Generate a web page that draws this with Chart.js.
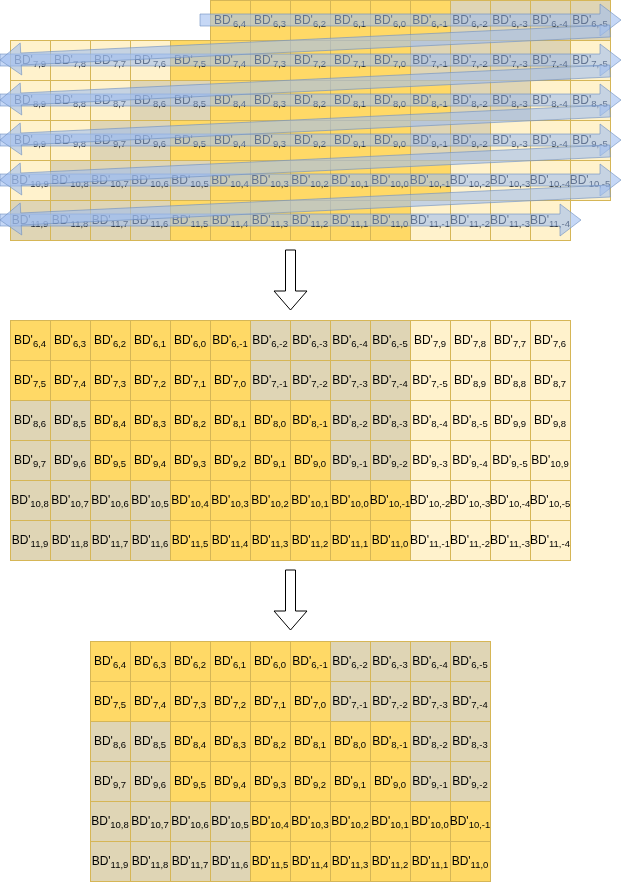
<!DOCTYPE html>
<html>
<head>
<meta charset="utf-8">
<script src="https://cdn.jsdelivr.net/npm/chart.js@4.4.1/dist/chart.umd.min.js"></script>
<style>
  html, body { margin: 0; padding: 0; background: #fff; }
  #box { width: 621px; height: 882px; }
</style>
</head>
<body>
<div id="box"><canvas id="grid" width="621" height="882"></canvas></div>
<script>
// BD' rows and the column numbers found in each row
const rowNums = [6, 7, 8, 9, 10, 11];
const rowCols = [
    [4, 3, 2, 1, 0, -1, -2, -3, -4, -5],
    [9, 8, 7, 6, 5, 4, 3, 2, 1, 0, -1, -2, -3, -4, -5],
    [9, 8, 7, 6, 5, 4, 3, 2, 1, 0, -1, -2, -3, -4, -5],
    [9, 8, 7, 6, 5, 4, 3, 2, 1, 0, -1, -2, -3, -4, -5],
    [9, 8, 7, 6, 5, 4, 3, 2, 1, 0, -1, -2, -3, -4, -5],
    [9, 8, 7, 6, 5, 4, 3, 2, 1, 0, -1, -2, -3, -4]
];
// shade of each cell: Y = yellow, T = tan, L = light
const rowShades = [
    'YYYYYYTTTT',
    'LLLLYYYYYYTTTTL',
    'LLLTTYYYYYYTTLL',
    'LLTTYYYYYYTTLLL',
    'LTTTTYYYYYYLLLL',
    'TTTTYYYYYYLLLL'
];
const middleWidth = 14; // cells per row once reflowed
const bottomWidth = 10; // cells kept per row at the end

const shadeColors = { Y: '#FFD966', T: '#DFD5B5', L: '#FFF2CC' };
const borderColor = '#D6B656';
const FONT = '"Liberation Sans", Arial, Helvetica, sans-serif';

// flat list of all cells in reading order
const cells = [];
rowNums.forEach((r, i) => {
    rowCols[i].forEach((c, j) => {
        cells.push({ label: r + ',' + c, shade: rowShades[i][j], row: i, pos: j, count: rowCols[i].length });
    });
});

// grid 1: rows as read, first row pushed to the right edge
const topPts = cells.map(d => ({
    x: (d.row === 0 ? 15 - d.count : 0) + d.pos + 0.5,
    y: d.row + 0.5,
    label: d.label, shade: d.shade
}));
// grid 2: same cells wrapped 14 per row
const midPts = cells.map((d, k) => ({
    x: k % middleWidth + 0.5,
    y: 8 + Math.floor(k / middleWidth) + 0.5,
    label: d.label, shade: d.shade
}));
// grid 3: first 10 columns of grid 2
const botPts = cells.filter((d, k) => k % middleWidth < bottomWidth).map((d, k) => ({
    x: 2 + k % bottomWidth + 0.5,
    y: 16.03 + Math.floor(k / bottomWidth) + 0.5,
    label: d.label, shade: d.shade
}));

function drawLabel(ctx, x, y, sub) {
    ctx.textAlign = 'left';
    ctx.textBaseline = 'alphabetic';
    ctx.font = '12px ' + FONT;
    const w1 = ctx.measureText("BD'").width;
    ctx.font = '9.5px ' + FONT;
    const w2 = ctx.measureText(sub).width;
    const x0 = x - (w1 + w2) / 2;
    ctx.fillStyle = '#000';
    ctx.font = '12px ' + FONT;
    ctx.fillText("BD'", x0, y + 4);
    ctx.font = '9.5px ' + FONT;
    ctx.fillText(sub, x0 + w1, y + 7);
}

function flexArrow(ctx, x1, y1, x2, y2, shaft, headW, headL) {
    const dx = x2 - x1, dy = y2 - y1, len = Math.hypot(dx, dy);
    const ux = dx / len, uy = dy / len, nx = -uy, ny = ux;
    const bx = x2 - ux * headL, by = y2 - uy * headL;
    ctx.beginPath();
    ctx.moveTo(x1 + nx * shaft / 2, y1 + ny * shaft / 2);
    ctx.lineTo(bx + nx * shaft / 2, by + ny * shaft / 2);
    ctx.lineTo(bx + nx * headW / 2, by + ny * headW / 2);
    ctx.lineTo(x2, y2);
    ctx.lineTo(bx - nx * headW / 2, by - ny * headW / 2);
    ctx.lineTo(bx - nx * shaft / 2, by - ny * shaft / 2);
    ctx.lineTo(x1 - nx * shaft / 2, y1 - ny * shaft / 2);
    ctx.closePath();
    ctx.fill();
    ctx.stroke();
}

const cellPlugin = {
    id: 'cells',
    afterDatasetsDraw(chart) {
        const ctx = chart.ctx;
        const xs = chart.scales.x, ys = chart.scales.y;
        const cw = Math.abs(xs.getPixelForValue(1) - xs.getPixelForValue(0));
        const ch = Math.abs(ys.getPixelForValue(1) - ys.getPixelForValue(0));
        ctx.save();
        chart.data.datasets.forEach((ds, di) => {
            const meta = chart.getDatasetMeta(di);
            meta.data.forEach((pt, i) => {
                ctx.fillStyle = shadeColors[ds.data[i].shade];
                ctx.fillRect(pt.x - cw / 2, pt.y - ch / 2, cw, ch);
            });
            ctx.strokeStyle = borderColor;
            ctx.lineWidth = 1;
            meta.data.forEach(pt => {
                ctx.strokeRect(Math.round(pt.x - cw / 2) + 0.5, Math.round(pt.y - ch / 2) + 0.5, Math.round(cw), Math.round(ch));
            });
            meta.data.forEach((pt, i) => {
                drawLabel(ctx, pt.x, pt.y, ds.data[i].label);
            });
        });

        // reading-order arrows over grid 1
        ctx.fillStyle = 'rgba(160, 190, 240, 0.6)';
        ctx.strokeStyle = 'rgba(108, 142, 191, 0.6)';
        ctx.lineWidth = 1;
        const rows = rowNums.map((r, i) => {
            const pts = chart.getDatasetMeta(0).data.filter((p, k) => topPts[k].y === i + 0.5);
            return { y: pts[0].y, left: pts[0].x - cw / 2, right: pts[pts.length - 1].x + cw / 2 };
        });
        rows.forEach((r, i) => {
            flexArrow(ctx, r.left - 10, r.y, r.right + 11, r.y, 12, 32, 21);
            if (i > 0) {
                const p = rows[i - 1];
                flexArrow(ctx, p.right, p.y + 11, r.left - 10, r.y, 12, 32, 21);
            }
        });

        // white down arrows between grids
        ctx.fillStyle = '#fff';
        ctx.strokeStyle = '#000';
        [[6.25, 7.75], [14.25, 15.75]].forEach(([a, b]) => {
            const cx = Math.round(xs.getPixelForValue(7)) + 0.5;
            const y1 = ys.getPixelForValue(a), y2 = ys.getPixelForValue(b);
            flexArrow(ctx, cx, y1, cx, y2, 10, 33, 19);
        });
        ctx.restore();
    }
};

const ctx = document.getElementById('grid');
new Chart(ctx, {
    type: 'scatter',
    data: {
        datasets: [
            { label: 'read', data: topPts, pointRadius: 0 },
            { label: 'reflow', data: midPts, pointRadius: 0 },
            { label: 'kept', data: botPts, pointRadius: 0 }
        ]
    },
    options: {
        responsive: false,
        animation: false,
        events: [],
        layout: { padding: 0 },
        plugins: { legend: { display: false }, tooltip: { enabled: false } },
        scales: {
            x: { type: 'linear', min: -0.25, max: 15.275, display: false },
            y: { type: 'linear', min: 0, max: 22.05, reverse: true, display: false }
        }
    },
    plugins: [cellPlugin]
});
</script>
</body>
</html>
